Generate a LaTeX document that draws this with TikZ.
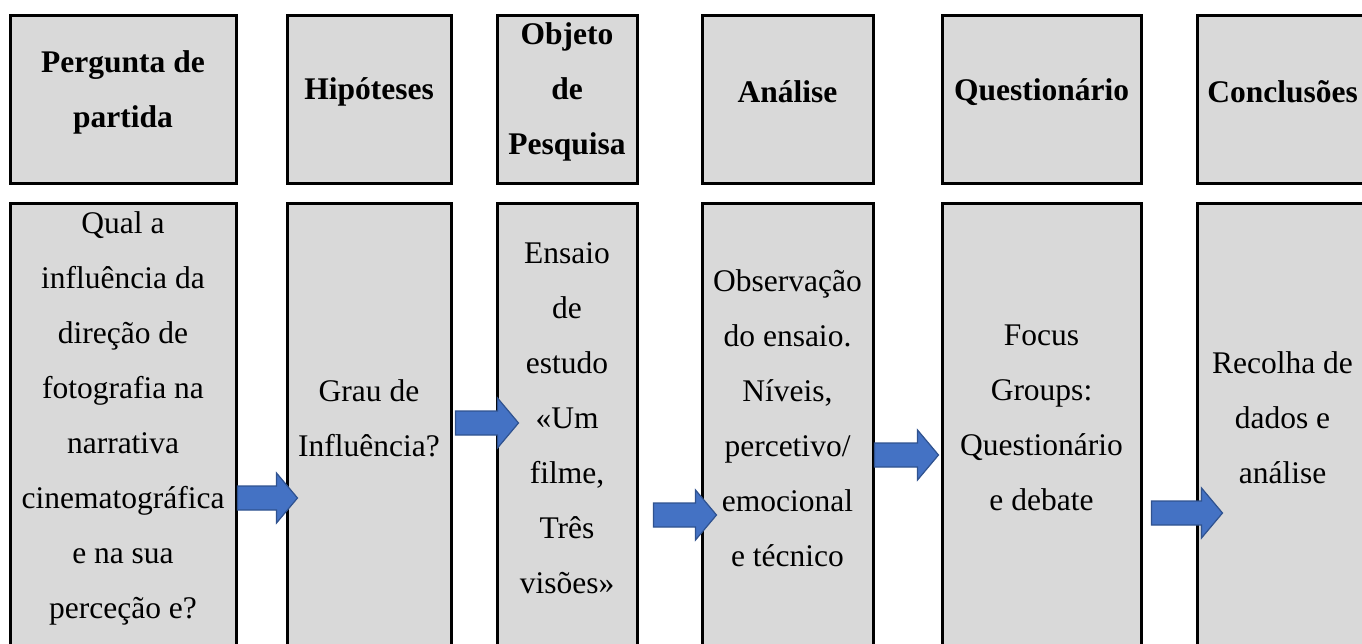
\documentclass[tikz,border=0pt]{standalone}
\usepackage{fontspec}
\setmainfont{Liberation Serif}
\usetikzlibrary{calc}

\definecolor{cellgray}{HTML}{D9D9D9}
\definecolor{arrowblue}{HTML}{4472C4}
\definecolor{arrowedge}{HTML}{2F528F}

\tikzset{
  cell/.style={draw=black, line width=3pt, fill=cellgray, inner sep=0pt},
  headcell/.style={cell, minimum height=168pt},
  bodycell/.style={cell, minimum height=497pt},
  headtext/.style={align=center, inner sep=0pt, font=\fontsize{31.5}{55}\selectfont\bfseries},
  bodytext/.style={align=center, inner sep=0pt, font=\fontsize{31.5}{55}\selectfont},
  flow/.style={fill=arrowblue, draw=arrowedge, line width=1.2pt, line join=miter}
}

% block arrow from a start coordinate to a tip coordinate
\newcommand{\flowarrow}[2]{%
  \filldraw[flow] ($(#1)+(0,-12)$) -- ($(#2)+(-21,-12)$) -- ($(#2)+(-21,-25)$)
    -- (#2) -- ($(#2)+(-21,25)$) -- ($(#2)+(-21,12)$) -- ($(#1)+(0,12)$) -- cycle;}

\begin{document}
\begin{tikzpicture}[x=1pt, y=-1pt]
  \useasboundingbox (0,0) rectangle (1362,644);
  \clip (0,0) rectangle (1362,644);

  % Header row
  \node[headcell, minimum width=226pt] (hpergunta) at (123,99.5) {};
  \node[headcell, minimum width=164pt] (hhipoteses) at (369,99.5) {};
  \node[headcell, minimum width=140pt] (hobjeto) at (567,99.5) {};
  \node[headcell, minimum width=171pt] (hanalise) at (787.5,99.5) {};
  \node[headcell, minimum width=199pt] (hquestionario) at (1041.5,99.5) {};
  \node[headcell, minimum width=171pt] (hconclusoes) at (1282.5,99.5) {};

  \node[headtext] (hpergunta-t) at (hpergunta |- 0,92) {Pergunta de\\partida};
  \node[headtext] (hhipoteses-t) at (hhipoteses |- 0,92) {Hipóteses};
  \node[headtext] (hobjeto-t) at (hobjeto |- 0,92) {Objeto\\de\\Pesquisa};
  \node[headtext] (hanalise-t) at (hanalise |- 0,92) {Análise};
  \node[headtext] (hquestionario-t) at (hquestionario |- 0,92) {Questionário};
  \node[headtext] (hconclusoes-t) at (hconclusoes |- 0,92) {Conclusões};

  % Body row (runs past the bottom edge)
  \node[bodycell, minimum width=226pt] (pergunta) at (123,452) {};
  \node[bodycell, minimum width=164pt] (hipoteses) at (369,452) {};
  \node[bodycell, minimum width=140pt] (objeto) at (567,452) {};
  \node[bodycell, minimum width=171pt] (analise) at (787.5,452) {};
  \node[bodycell, minimum width=199pt] (questionario) at (1041.5,452) {};
  \node[bodycell, minimum width=171pt] (conclusoes) at (1282.5,452) {};

  \node[bodytext] (pergunta-t) at (pergunta |- 0,418) {Qual a\\influência da\\direção de\\fotografia na\\narrativa\\cinematográfica\\e na sua\\perceção e?};
  \node[bodytext] (hipoteses-t) at (hipoteses |- 0,418) {Grau de\\Influência?};
  \node[bodytext] (objeto-t) at (objeto |- 0,418) {Ensaio\\de\\estudo\\«Um\\filme,\\Três\\visões»};
  \node[bodytext] (analise-t) at (analise |- 0,418) {Observação\\do ensaio.\\Níveis,\\percetivo/\\emocional\\e técnico};
  \node[bodytext] (questionario-t) at (questionario |- 0,418) {Focus\\Groups:\\Questionário\\e debate};
  \node[bodytext] (conclusoes-t) at (conclusoes |- 0,418) {Recolha de\\dados e\\análise};

  % Arrows between the columns
  \coordinate (a1s) at (pergunta.east |- 0,498);
  \coordinate (a1e) at ($(hipoteses.west |- a1s)+(12,0)$);
  \coordinate (a2s) at ($(hipoteses.east |- 0,423)+(3,0)$);
  \coordinate (a2e) at ($(objeto.west |- a2s)+(23,0)$);
  \coordinate (a3s) at ($(objeto.east |- 0,515)+(15,0)$);
  \coordinate (a3e) at ($(analise.west |- a3s)+(16,0)$);
  \coordinate (a4s) at (analise.east |- 0,455);
  \coordinate (a4e) at ($(questionario.west |- a4s)+(-2,0)$);
  \coordinate (a5s) at ($(questionario.east |- 0,513)+(9,0)$);
  \coordinate (a5e) at ($(conclusoes.west |- a5s)+(27,0)$);

  \flowarrow{a1s}{a1e}
  \flowarrow{a2s}{a2e}
  \flowarrow{a3s}{a3e}
  \flowarrow{a4s}{a4e}
  \flowarrow{a5s}{a5e}
\end{tikzpicture}
\end{document}
